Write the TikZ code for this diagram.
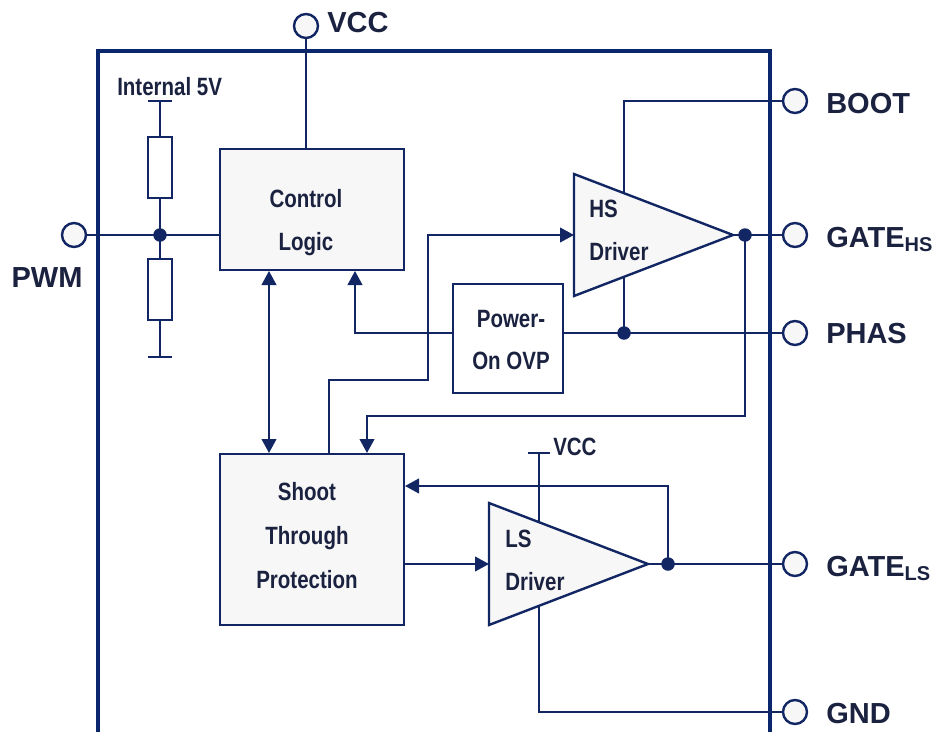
\documentclass[tikz,border=0pt]{standalone}
\usepackage{fontspec}
\setmainfont{Liberation Sans}
\newfontfamily\narrowfont[FakeStretch=0.82]{Liberation Sans}
\usetikzlibrary{arrows.meta}
\definecolor{wirecol}{RGB}{18,38,100}
\definecolor{chipcol}{RGB}{10,38,108}
\definecolor{textcol}{RGB}{26,34,64}
\definecolor{boxfill}{RGB}{247,247,247}
\def\px{0.75pt}
\newcommand{\pinf}{\fontsize{21.75}{26}\selectfont\bfseries}
\newcommand{\intf}{\narrowfont\bfseries\fontsize{18.75}{22}\selectfont}
\tikzset{
  wire/.style={draw=wirecol, line width=1.5pt},
  arr/.style={wire, -{Triangle[length=10.5pt,width=11pt]}},
  darr/.style={wire, {Triangle[length=10.5pt,width=11pt]}-{Triangle[length=10.5pt,width=11pt]}},
  blk/.style={draw=wirecol, line width=1.5pt, fill=boxfill, inner sep=0pt},
  wblk/.style={blk, fill=white},
  chip/.style={draw=chipcol, line width=3pt},
  pin/.style={circle, draw=wirecol, line width=1.8pt, fill=boxfill, minimum size={24*\px}, inner sep=0pt},
  jdot/.style={circle, fill=wirecol, minimum size={13.5*\px}, inner sep=0pt},
  drv/.style={draw=wirecol, line width=1.8pt, fill=boxfill, line join=miter},
  plab/.style={font=\pinf, text=textcol, inner sep=0pt, anchor=base west},
  ilab/.style={font=\intf, text=textcol, inner sep=0pt, anchor=base},
  ilabw/.style={font=\intf, text=textcol, inner sep=0pt, anchor=base west}
}
\begin{document}
\begin{tikzpicture}[x=0.75pt,y=-0.75pt]
\useasboundingbox (0,0) rectangle (936,732);

% helper coordinates
\coordinate (xa) at (269,0);
\coordinate (xb) at (355,0);
\coordinate (xc) at (367,0);
\coordinate (xd) at (329,0);
\coordinate (xe) at (428,0);
\coordinate (xv) at (539,0);
\coordinate (xh) at (624,0);
\coordinate (xj3) at (745,0);
\coordinate (xj4) at (668,0);
\coordinate (yp) at (0,333);
\coordinate (yq) at (0,416);
\coordinate (yr) at (0,380);
\coordinate (ys) at (0,486);

% blocks
\node[blk, minimum width={184*\px}, minimum height={121*\px}] (cl) at (312,209.5) {};
\node[blk, minimum width={184*\px}, minimum height={171*\px}] (stp) at (312,539.5) {};
\node[wblk, minimum width={110*\px}, minimum height={109*\px}] (ovp) at (508,338.5) {};
\node[wblk, minimum width={24*\px}, minimum height={61*\px}] (r1) at (160,167.5) {};
\node[wblk, minimum width={24*\px}, minimum height={61*\px}] (r2) at (160,289.5) {};

% pins
\node[pin] (vccpin) at (306,26) {};
\node[pin] (pwmpin) at (74,235) {};
\node[pin] (bootpin) at (795,101) {};
\node[pin] (gatehspin) at (795,235) {};
\node[pin] (phaspin) at (795,333) {};
\node[pin] (gatelspin) at (795,564) {};
\node[pin] (gndpin) at (795,712) {};

% driver reference points
\coordinate (hsin) at (574,235);
\coordinate (hstip) at (733,235);
\coordinate (lsin) at (489,564);
\coordinate (lstip) at (648,564);
\coordinate (t5v) at (160,101);
\coordinate (b5v) at (160,357);
\coordinate (tvcc) at (539,453);

% chip outline
\draw[chip] (98,736) -- (98,51) -- (770,51) -- (770,736);

% wires
\draw[wire] (vccpin.south) -- (vccpin.south |- cl.north);
\draw[wire] (pwmpin.east) -- (pwmpin.east -| cl.west);
\draw[wire] (t5v) -- (r1.north);
\draw[wire] (r1.south) -- (r2.north);
\draw[wire] (r2.south) -- (b5v);
\draw[wire] ([xshift={-12*\px}]t5v) -- ([xshift={12*\px}]t5v);
\draw[wire] ([xshift={-12*\px}]b5v) -- ([xshift={12*\px}]b5v);
\draw[darr] (cl.south -| xa) -- (stp.north -| xa);
\draw[arr] (ovp.west |- yp) -| (cl.south -| xb);
\draw[wire] (ovp.east |- yp) -- (phaspin.west);
\draw[wire] (bootpin.west) -| (xh |- yp);
\draw[wire] (hstip) -- (gatehspin.west);
\draw[arr] (xj3 |- hstip) |- (xc |- yq) -- (stp.north -| xc);
\draw[arr] (stp.north -| xd) -- (xd |- yr) -- (xe |- yr) -- (xe |- hsin) -- (hsin);
\draw[arr] (stp.east |- lsin) -- (lsin);
\draw[wire] (lstip) -- (gatelspin.west);
\draw[arr] (xj4 |- lstip) |- (stp.east |- ys);
\draw[wire] (tvcc) -- (xv |- lsin);
\draw[wire] ([xshift={-11*\px}]tvcc) -- ([xshift={11*\px}]tvcc);
\draw[wire] (xv |- lsin) |- (gndpin.west);

% drivers
\draw[drv] (574,174) -- (hstip) -- (574,296) -- cycle;
\draw[drv] (489,503) -- (lstip) -- (489,625) -- cycle;

% junction dots
\node[jdot] (j1) at (160,235) {};
\node[jdot] (j2) at (624,333) {};
\node[jdot] (j3) at (745,235) {};
\node[jdot] (j4) at (668,564) {};

% pin labels
\node[plab] (lvcc) at (327,32) {VCC};
\node[plab, anchor=base] (lpwm) at (47,287) {PWM};
\node[plab] (lboot) at (826,113) {BOOT};
\node[plab] (lghs) at (826,247) {GATE\raisebox{-3pt}{\fontsize{15}{15}\selectfont HS}};
\node[plab] (lphas) at (826,343) {PHAS};
\node[plab] (lgls) at (826,576) {GATE\raisebox{-3pt}{\fontsize{15}{15}\selectfont LS}};
\node[plab] (lgnd) at (826,723) {GND};

% internal labels
\node[ilabw] (l5v) at (117,95) {Internal 5V};
\node[ilabw] (lvcc2) at (553,455) {VCC};
\node[ilab] (lcl1) at (306,207) {Control};
\node[ilab] (lcl2) at (306,250) {Logic};
\node[ilab] (lst1) at (307,500) {Shoot};
\node[ilab] (lst2) at (307,544) {Through};
\node[ilab] (lst3) at (307,588) {Protection};
\node[ilab] (lov1) at (511,327) {Power-};
\node[ilab] (lov2) at (511,369) {On OVP};
\node[ilabw] (lhs1) at (589,217) {HS};
\node[ilabw] (lhs2) at (589,260) {Driver};
\node[ilabw] (lls1) at (505,547) {LS};
\node[ilabw] (lls2) at (505,590) {Driver};
\end{tikzpicture}
\end{document}
